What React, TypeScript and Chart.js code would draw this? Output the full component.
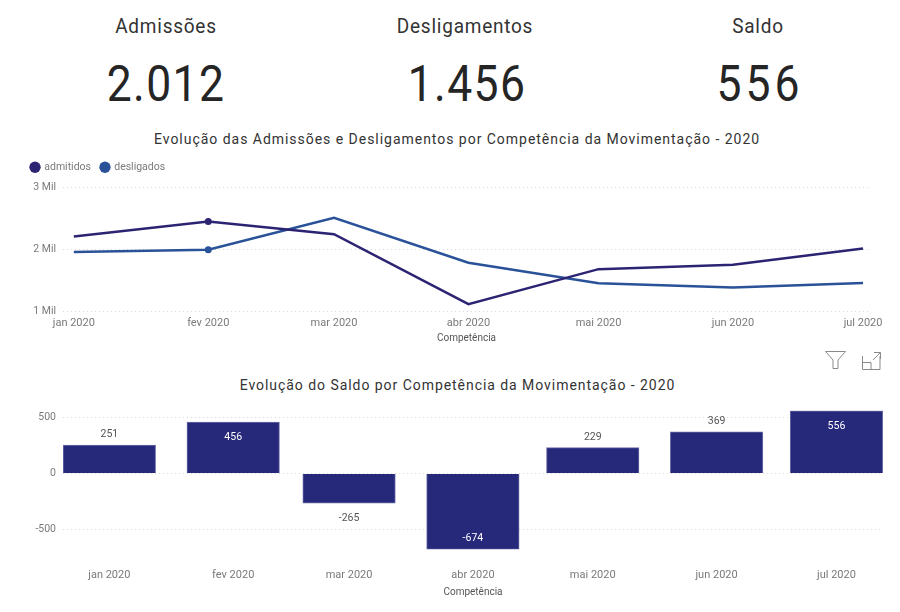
import React, { useEffect, useRef } from "react";
import { Chart, registerables } from "chart.js";

Chart.register(...registerables);

const monthLabels = ["jan 2020", "fev 2020", "mar 2020", "abr 2020", "mai 2020", "jun 2020", "jul 2020"];
const dayOffsets = [0, 31, 60, 91, 121, 152, 182];
const admitidos = [2210, 2451, 2245, 1110, 1679, 1749, 2012];
const desligados = [1959, 1995, 2510, 1784, 1450, 1380, 1456];
const saldo = [251, 456, -265, -674, 229, 369, 556];
const markerRadius = [0, 3.5, 0, 0, 0, 0, 0];
const saldoTicks = [-500, 0, 500];

const FONT = "Roboto, 'Noto Sans', sans-serif";
const DARK = "#2c2473";
const BLUE = "#2a5298";
const BAR = "#26297a";
const GREY = "#7a7a7a";

const points = (ys: number[]) => ys.map((y, i) => ({ x: dayOffsets[i], y }));
const tickLabel = (v: number) => monthLabels[dayOffsets.indexOf(v)] ?? "";

const barLabels = {
  id: "barLabels",
  afterDatasetsDraw(chart: any) {
    const ctx = chart.ctx;
    const meta = chart.getDatasetMeta(0);
    ctx.save();
    ctx.font = `10.5px ${FONT}`;
    ctx.textAlign = "center";
    ctx.textBaseline = "middle";
    saldo.forEach((v, i) => {
      const el = meta.data[i];
      const inside = Math.abs(v) >= 450;
      ctx.fillStyle = inside ? "#ffffff" : "#555555";
      let y: number;
      if (inside) y = v >= 0 ? el.y + 15.5 : el.y - 11;
      else y = v >= 0 ? el.y - 10.5 : el.y + 15;
      ctx.fillText(String(v), el.x, y);
    });
    ctx.restore();
  },
};

function LineChart() {
  const ref = useRef<HTMLCanvasElement>(null);
  useEffect(() => {
    const chart = new Chart(ref.current!, {
      type: "line",
      data: {
        datasets: [
          {
            label: "admitidos",
            data: points(admitidos),
            borderColor: DARK,
            backgroundColor: DARK,
            borderWidth: 2.5,
            pointRadius: markerRadius,
            pointBackgroundColor: DARK,
            pointBorderWidth: 0,
            tension: 0,
          },
          {
            label: "desligados",
            data: points(desligados),
            borderColor: BLUE,
            backgroundColor: BLUE,
            borderWidth: 2.5,
            pointRadius: markerRadius,
            pointBackgroundColor: BLUE,
            pointBorderWidth: 0,
            tension: 0,
          },
        ],
      },
      options: {
        animation: false,
        responsive: false,
        layout: { padding: { left: 21, right: 30, top: 0, bottom: 0 } },
        plugins: {
          tooltip: { enabled: false },
          title: {
            display: true,
            text: "",
            weight: 500,
            font: { size: 1 },
            padding: { top: 0, bottom: 4 },
          },
          legend: {
            display: true,
            align: "start",
            labels: {
              usePointStyle: true,
              pointStyle: "circle",
              boxWidth: 8,
              boxHeight: 8,
              padding: 10,
              color: GREY,
              font: { family: FONT, size: 10.5 },
            },
          },
        },
        scales: {
          x: {
            type: "linear",
            min: -2.5,
            max: 183.6,
            grid: { display: false, drawTicks: false },
            border: { display: false },
            afterBuildTicks: (s: any) => {
              s.ticks = dayOffsets.map((value) => ({ value }));
            },
            afterFit: (s: any) => {
              s.height = 39;
            },
            ticks: {
              autoSkip: false,
              maxRotation: 0,
              padding: 6,
              color: GREY,
              font: { family: FONT, size: 11 },
              callback: (v: any) => tickLabel(v),
            },
            title: {
              display: true,
              text: "Competência",
              color: "#555555",
              font: { family: FONT, size: 10 },
              padding: { top: 0, bottom: 6 },
            },
          },
          y: {
            min: 1000,
            max: 3000,
            afterFit: (s: any) => {
              s.width = 42;
            },
            grid: { color: "#d9d9d9", drawTicks: false },
            border: { display: false, dash: [1, 3] },
            ticks: {
              stepSize: 1000,
              padding: 7,
              color: GREY,
              font: { family: FONT, size: 10.5 },
              callback: (v: any) => `${Number(v) / 1000} Mil`,
            },
          },
        },
      },
    } as any);
    return () => chart.destroy();
  }, []);
  return <canvas ref={ref} width={900} height={198} style={{ position: "absolute", left: 0, top: 152, display: "block" }} />;
}

function BarChart() {
  const ref = useRef<HTMLCanvasElement>(null);
  useEffect(() => {
    const chart = new Chart(ref.current!, {
      type: "bar",
      data: {
        datasets: [
          {
            label: "Saldo",
            data: points(saldo),
            backgroundColor: BAR,
            borderColor: "#6a6ca8",
            borderWidth: 1,
            barThickness: 92.5,
          },
        ],
      },
      plugins: [barLabels],
      options: {
        animation: false,
        responsive: false,
        layout: { padding: { left: 21, right: 17, top: 5, bottom: 0 } },
        plugins: { legend: { display: false }, tooltip: { enabled: false } },
        scales: {
          x: {
            type: "linear",
            offset: false,
            min: -11.6,
            max: 193.65,
            grid: { display: false, drawTicks: false },
            border: { display: false },
            afterBuildTicks: (s: any) => {
              s.ticks = dayOffsets.map((value) => ({ value }));
            },
            afterFit: (s: any) => {
              s.height = 62.5;
            },
            ticks: {
              autoSkip: false,
              maxRotation: 0,
              padding: 19,
              color: GREY,
              font: { family: FONT, size: 11 },
              callback: (v: any) => tickLabel(v),
            },
            title: {
              display: true,
              text: "Competência",
              color: "#555555",
              font: { family: FONT, size: 10 },
              padding: { top: 0, bottom: 14 },
            },
          },
          y: {
            min: -675,
            max: 560,
            afterBuildTicks: (s: any) => {
              s.ticks = saldoTicks.map((value) => ({ value }));
            },
            afterFit: (s: any) => {
              s.width = 42;
            },
            grid: { color: "#d9d9d9", drawTicks: false },
            border: { display: false, dash: [1, 3] },
            ticks: {
              padding: 7,
              color: GREY,
              font: { family: FONT, size: 10.5 },
            },
          },
        },
      },
    } as any);
    return () => chart.destroy();
  }, []);
  return <canvas ref={ref} width={900} height={215} style={{ position: "absolute", left: 0, top: 397, display: "block" }} />;
}

const centered = (cx: number, cy: number, size: number, spacing: number, scaleX = 1): React.CSSProperties => ({
  position: "absolute",
  left: cx - 300,
  width: 600,
  top: cy - size,
  height: size * 2,
  lineHeight: `${size * 2}px`,
  textAlign: "center",
  fontFamily: FONT,
  fontSize: size,
  fontWeight: 400,
  letterSpacing: spacing,
  color: "#333333",
  whiteSpace: "nowrap",
  transform: `scaleX(${scaleX})`,
});

const kpis = [
  { label: "Admissões", value: "2.012", cx: 166, cv: 166, gap: 1.5 },
  { label: "Desligamentos", value: "1.456", cx: 465, cv: 467, gap: 1.5 },
  { label: "Saldo", value: "556", cx: 758, cv: 760, gap: 4.5 },
];

export default function App() {
  return (
    <div style={{ position: "fixed", left: 0, top: 0, width: 900, height: 612, background: "#fff", overflow: "hidden", filter: "blur(0.35px)" }}>
      {kpis.map((k) => (
        <React.Fragment key={k.label}>
          <div style={centered(k.cx, 25.5, 20, 0.8, 0.95)}>{k.label}</div>
          <div style={{ ...centered(k.cv, 84, 50, k.gap, 0.89), color: "#252525" }}>{k.value}</div>
        </React.Fragment>
      ))}
      <div style={centered(454, 139, 14, 0.97)}>
        Evolução das Admissões e Desligamentos por Competência da Movimentação - 2020
      </div>
      <div style={centered(457.5, 385, 14, 0.95)}>Evolução do Saldo por Competência da Movimentação - 2020</div>
      <LineChart />
      <BarChart />
      <svg width={60} height={24} viewBox="0 0 60 24" style={{ position: "absolute", left: 824, top: 349 }} fill="none" stroke="#8a8a8a" strokeWidth={1}>
        <path d="M1.5 2.5 H21.5 L14 11 V19.5 H9 V11 Z" />
        <path d="M38.5 7 V20.5 H56 V7 M38.5 13.5 H47 V20.5 M50 3.5 H56.5 V10 M56.5 3.5 L49 11" />
      </svg>
    </div>
  );
}
